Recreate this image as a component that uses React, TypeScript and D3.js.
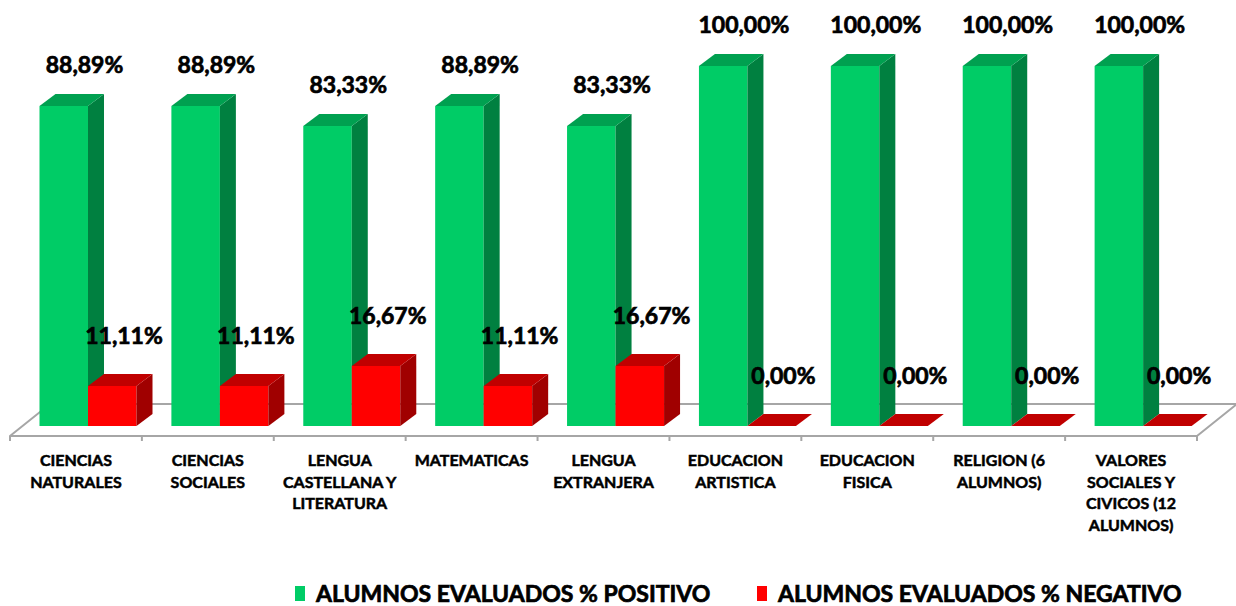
import React, {useEffect, useRef} from 'react';
import * as d3 from "d3";

const categories = [
  "CIENCIAS NATURALES",
  "CIENCIAS SOCIALES",
  "LENGUA CASTELLANA Y LITERATURA",
  "MATEMATICAS",
  "LENGUA EXTRANJERA",
  "EDUCACION ARTISTICA",
  "EDUCACION FISICA",
  "RELIGION (6 ALUMNOS)",
  "VALORES SOCIALES Y CIVICOS (12 ALUMNOS)"
]

// how each category label wraps under the axis
const categoryLines = [
  ["CIENCIAS", "NATURALES"],
  ["CIENCIAS", "SOCIALES"],
  ["LENGUA", "CASTELLANA Y", "LITERATURA"],
  ["MATEMATICAS"],
  ["LENGUA", "EXTRANJERA"],
  ["EDUCACION", "ARTISTICA"],
  ["EDUCACION", "FISICA"],
  ["RELIGION (6", "ALUMNOS)"],
  ["VALORES", "SOCIALES Y", "CIVICOS (12", "ALUMNOS)"]
]

const positivo = [88.89, 88.89, 83.33, 88.89, 83.33, 100, 100, 100, 100]
const negativo = [11.11, 11.11, 16.67, 11.11, 16.67, 0, 0, 0, 0]

const seriesNames = ["ALUMNOS EVALUADOS % POSITIVO", "ALUMNOS EVALUADOS % NEGATIVO"]

const App = () => {

  const chart = useRef(null)

  useEffect(() => {
    const width = 1236
    const height = 606
    const font = "Lato, 'DejaVu Sans', sans-serif"

    // 3d look, same as excel
    const dx = 16, dy = 12
    const floorDx = 40, floorDy = 32
    const floorFront = 436

    const green = {front: "#00cc66", top: "#00a050", side: "#008040"}
    const red = {front: "#ff0000", top: "#c00000", side: "#a00000"}

    const svg = d3.select(chart.current)
      .attr("width", width)
      .attr("height", height)

    svg.selectAll("*").remove()

    const fmt = d3.formatLocale({decimal: ",", thousands: ".", grouping: [3], currency: ["", "€"]}).format(".2f")

    const xScale = d3.scaleBand()
      .domain(categories)
      .range([10, 1197])

    const yScale = d3.scaleLinear()
      .domain([0, 100])
      .range([426, 66])

    const bw = 48.5
    const inset = 29.5

    // floor
    const x0 = xScale.range()[0], x1 = xScale.range()[1]
    svg.append("polygon")
      .attr("points", [[x0, floorFront], [x0 + floorDx, floorFront - floorDy], [x1 + floorDx, floorFront - floorDy], [x1, floorFront]].map(p => p.join(",")).join(" "))
      .attr("fill", "white")
      .attr("stroke", "#a6a6a6")
      .attr("stroke-width", 2)
      .attr("stroke-linejoin", "round")

    // ticks
    const tickXs = categories.map(c => xScale(c)).concat([x1])
    svg.append("g")
      .selectAll("line")
      .data(tickXs)
      .join("line")
      .attr("x1", d => d).attr("x2", d => d)
      .attr("y1", floorFront).attr("y2", floorFront + 5)
      .attr("stroke", "#a6a6a6")
      .attr("stroke-width", 2)

    const drawBar = (g, x, v, col) => {
      const yt = yScale(v), yb = yScale(0)
      const pts = a => a.map(p => p.join(",")).join(" ")
      g.append("rect")
        .attr("x", x).attr("y", yt)
        .attr("width", bw).attr("height", yb - yt)
        .attr("fill", col.front)
      g.append("polygon")
        .attr("points", pts([[x + bw, yt], [x + bw + dx, yt - dy], [x + bw + dx, yb - dy], [x + bw, yb]]))
        .attr("fill", col.side)
      g.append("polygon")
        .attr("points", pts([[x, yt], [x + dx, yt - dy], [x + bw + dx, yt - dy], [x + bw, yt]]))
        .attr("fill", col.top)
    }

    const bars = svg.append("g")
    categories.forEach((c, i) => {
      const gx = xScale(c) + inset
      drawBar(bars, gx, positivo[i], green)
      drawBar(bars, gx + bw, negativo[i], red)
    })

    // bold text looks heavier in the original, thicken a bit with a stroke
    const heavy = (g, sw) => g
      .attr("font-family", font)
      .attr("font-weight", "bold")
      .attr("fill", "black")
      .attr("stroke", "black")
      .attr("stroke-width", sw)

    // value labels
    const labels = heavy(svg.append("g"), 0.7)
      .attr("font-size", 23)
      .attr("text-anchor", "middle")

    labels.selectAll("text.pos")
      .data(positivo)
      .join("text")
      .attr("class", "pos")
      .attr("x", (d, i) => xScale(categories[i]) + inset + 45)
      .attr("y", d => yScale(d) - 33)
      .text(d => fmt(d) + "%")

    labels.selectAll("text.neg")
      .data(negativo)
      .join("text")
      .attr("class", "neg")
      .attr("x", (d, i) => xScale(categories[i]) + inset + bw + 36)
      .attr("y", d => yScale(d) - 42)
      .text(d => fmt(d) + "%")

    // category labels
    const cat = heavy(svg.append("g"), 0.5)
      .attr("font-size", 16)
      .attr("text-anchor", "middle")

    categories.forEach((c, i) => {
      const t = cat.append("text")
        .attr("x", xScale(c) + xScale.bandwidth() / 2)
        .attr("y", 466)
      categoryLines[i].forEach((line, j) => {
        t.append("tspan")
          .attr("x", xScale(c) + xScale.bandwidth() / 2)
          .attr("dy", j === 0 ? 0 : 21.5)
          .text(line)
      })
    })

    // legend
    const legend = heavy(svg.append("g"), 0.7)
      .attr("font-size", 23)
    const legendX = [295, 757]
    seriesNames.forEach((name, i) => {
      legend.append("rect")
        .attr("x", legendX[i]).attr("y", 586)
        .attr("width", 10).attr("height", 15)
        .attr("stroke", "none")
        .attr("fill", i === 0 ? green.front : red.front)
      legend.append("text")
        .attr("x", legendX[i] + 21)
        .attr("y", 602)
        .text(name)
    })

    return () => {
      svg.selectAll("*").remove()
    }
  }, [])

  return (
    <div id={"chartAlumnos"} style={{position: "absolute", left: 0, top: 0}}>
      <svg ref={chart} style={{display: "block"}}/>
    </div>
  )
}

export default App
